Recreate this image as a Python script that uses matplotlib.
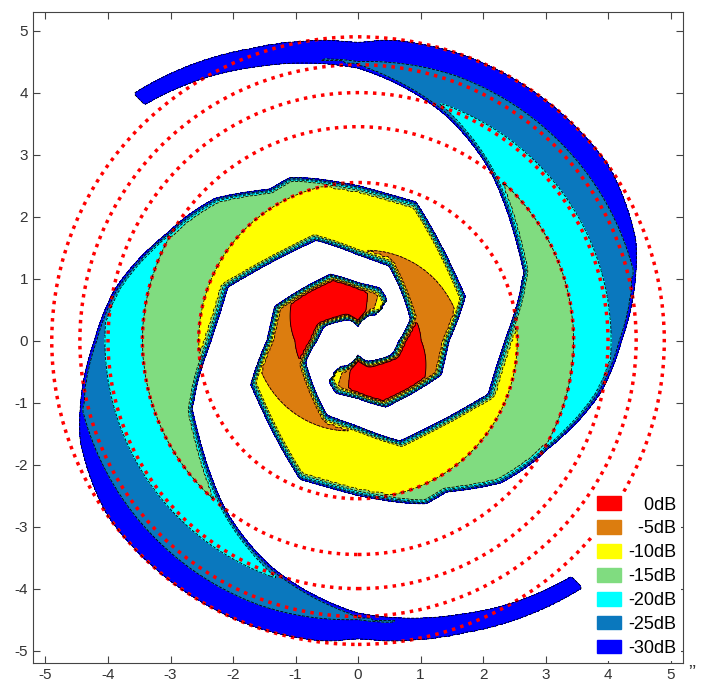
import numpy as np
import matplotlib
matplotlib.use("Agg")
import matplotlib.pyplot as plt
from matplotlib.patches import Circle, Patch

plt.rcParams["axes.unicode_minus"] = False
plt.rcParams["font.family"] = ["Liberation Sans", "DejaVu Sans"]

# contour levels (dB) and their fill colours, lowest first
level_db = [-30, -25, -20, -15, -10, -5, 0]
level_colors = ["#0000ff", "#0a78be", "#00ffff", "#80dc80", "#ffff00", "#dc7d0f", "#ff0000"]
legend_labels = ["\u2004\u20070dB", "\u2007-5dB", "-10dB", "-15dB", "-20dB", "-25dB", "-30dB"]

# dotted reference circles
ring_radius = [2.55, 3.45, 4.0, 4.45, 4.9]

# radial fall-off of the level, read where each colour band ends
profile_r = [0.0, 0.9, 1.45, 2.55, 3.45, 4.05, 4.55, 4.9, 5.6]
profile_db = [4, 0, -5, -10, -15, -20, -25, -30, -36]

# one spiral arm (angle in deg, edges in units); the second arm is the same turned by 180 deg
arm_phi = [55, 90, 135, 180, 270, 300, 315, 330, 348, 360, 380, 405, 430, 450, 470, 492]
arm_r_in = [0.45, 0.2, 0.4, 0.62, 1.34, 1.65, 1.8, 1.95, 2.15, 2.3, 2.6, 3.2, 3.85, 4.3, 4.6, 5.0]
arm_r_out = [0.85, 0.97, 1.25, 1.5, 2.55, 2.8, 3.3, 3.55, 4.05, 4.3, 4.85, 5.2, 5.2, 4.95, 5.15, 5.5]
arm_gain = [-10, 4, 4, 1, 0, 0, 0, 0, 0, 0, 0, 0, 0, -0.5, 2, 5]

floor_db = -40
edge = 0.15

# build the field on a grid
g = np.linspace(-5.6, 5.6, 281)
X, Y = np.meshgrid(g, g)
R = np.hypot(X, Y)
T = np.degrees(np.arctan2(Y, X)) % 360
# inner turns are octagonal, outer ones round
dT = np.radians((T + 22.5) % 45 - 22.5)
w = np.clip(3.6 - R, 0, 1)
Rm = R * (1 - w + w * np.cos(dT))
L = np.interp(R, profile_r, profile_db)

field = np.full_like(R, floor_db, dtype=float)
for off in (0, 180):
    base = (T - off) % 360
    for k in range(3):
        phi = base + 360 * k
        inside = (phi >= arm_phi[0]) & (phi <= arm_phi[-1])
        r_in = np.interp(phi, arm_phi, arm_r_in)
        r_out = np.interp(phi, arm_phi, arm_r_out)
        gain = np.interp(phi, arm_phi, arm_gain)
        depth = np.minimum(Rm - r_in, r_out - Rm)
        m = np.clip(depth / edge, 0, 1) * inside
        field = np.maximum(field, floor_db + m * (L + gain - floor_db))

fig = plt.figure(figsize=(7.02, 6.86), dpi=100)
ax = fig.add_axes([0.047, 0.0335, 0.926, 0.949])

ax.contourf(X, Y, field, levels=level_db + [100], colors=level_colors)
ax.contour(X, Y, field, levels=level_db, colors="k", linewidths=0.6)

for r in ring_radius:
    ax.add_patch(Circle((0, 0), r, fill=False, ec="red", lw=2.5, ls=(0, (1, 1.5))))

ax.set_xlim(-5.2, 5.2)
ax.set_ylim(-5.2, 5.3)
ax.set_xticks(range(-5, 6))
ax.set_yticks(range(-5, 6))
ax.tick_params(direction="in", top=True, right=True, length=5, labelsize=11,
               labelcolor="#333333", color="#444444")
for s in ax.spines.values():
    s.set_color("#444444")

handles = [Patch(color=c) for c in level_colors[::-1]]
leg = ax.legend(handles, legend_labels, loc="lower right", frameon=True, framealpha=1,
                handlelength=1.35, handleheight=0.8, handletextpad=0.4,
                labelspacing=0.37, borderaxespad=0.1, borderpad=0.25, fontsize=13,
                fancybox=False)
leg.get_frame().set_edgecolor("none")

fig.text(0.981, 0.012, "\u201d", fontsize=15, color="#333333")

fig.savefig("out.png", dpi=100)
